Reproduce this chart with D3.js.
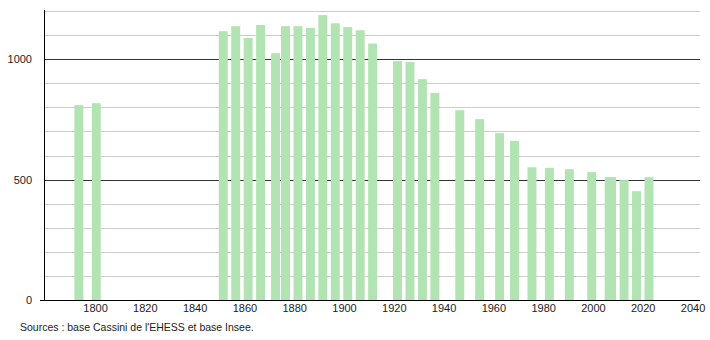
<!DOCTYPE html>
<meta charset="utf-8">
<title>Population</title>
<style>
body { margin: 0; background: #fff; font: 11px "Liberation Sans", Arial, sans-serif; }
.grid line { stroke: #ccc; stroke-width: 1; shape-rendering: crispEdges; }
.grid line.major { stroke: #333; }
.axis text { fill: #222; font: 11px "Liberation Sans", Arial, sans-serif; }
</style>
<body>
<script src="https://d3js.org/d3.v7.min.js"></script>
<script>

// census years and population
var years = [1793, 1800,
  1851, 1856, 1861, 1866, 1872, 1876, 1881, 1886, 1891, 1896, 1901, 1906, 1911,
  1921, 1926, 1931, 1936, 1946, 1954, 1962, 1968, 1975, 1982, 1990, 1999,
  2006, 2007, 2012, 2017, 2022];
var population = [809, 817,
  1116, 1137, 1088, 1142, 1025, 1137, 1137, 1130, 1183, 1149, 1133, 1120, 1065,
  992, 988, 917, 860, 788, 751, 693, 661, 551, 549, 543, 531,
  510, 510, 498, 452, 510];

var xTicks = [1800, 1820, 1840, 1860, 1880, 1900, 1920, 1940, 1960, 1980, 2000, 2020, 2040];
var yLabels = [0, 500, 1000];
var yGrid = d3.range(100, 1201, 100);

var data = years.map(function(y, i) { return {year: y, pop: population[i]}; });

var width = 710, height = 340;
var plotLeft = 44, plotRight = 700, plotTop = 11, plotBottom = 300;

var x = d3.scaleLinear().domain([1779.5, 2043]).range([plotLeft, plotRight]);
var y = d3.scaleLinear().domain([0, 1200]).range([plotBottom, plotTop]);

var svg = d3.select("body").append("svg")
  .attr("width", width)
  .attr("height", height);

// grid lines
svg.append("g").attr("class", "grid")
  .selectAll("line")
  .data(yGrid)
  .enter().append("line")
  .attr("class", function(d) { return d % 500 === 0 ? "major" : null; })
  .attr("x1", plotLeft)
  .attr("x2", plotRight)
  .attr("y1", function(d) { return Math.round(y(d)) + 0.5; })
  .attr("y2", function(d) { return Math.round(y(d)) + 0.5; });

// bars (centred on the middle of the census year)
var half = 1.8;
svg.append("g")
  .selectAll("rect")
  .data(data)
  .enter().append("rect")
  .attr("x", function(d) { return x(d.year + 0.5 - half); })
  .attr("width", function(d) { return x(d.year + 0.5 + half) - x(d.year + 0.5 - half); })
  .attr("y", function(d) { return y(d.pop); })
  .attr("height", function(d) { return y(0) - y(d.pop); })
  .attr("fill", "#b2e3b2");

// x axis
var xAxis = svg.append("g")
  .attr("class", "axis")
  .attr("transform", "translate(0," + plotBottom + ")")
  .call(d3.axisBottom(x).tickValues(xTicks).tickFormat(d3.format("d")).tickSize(0).tickPadding(4));
xAxis.select(".domain").remove();

// y axis labels
var yAxis = svg.append("g")
  .attr("class", "axis")
  .attr("transform", "translate(" + plotLeft + ",0)")
  .call(d3.axisLeft(y).tickValues(yLabels).tickFormat(d3.format("d")).tickSize(0).tickPadding(12));
yAxis.select(".domain").remove();

// axis lines
svg.append("line")
  .attr("x1", plotLeft - 4).attr("x2", plotRight)
  .attr("y1", plotBottom + 0.5).attr("y2", plotBottom + 0.5)
  .attr("stroke", "#000");
svg.append("line")
  .attr("x1", plotLeft + 0.5).attr("x2", plotLeft + 0.5)
  .attr("y1", plotTop - 1).attr("y2", plotBottom)
  .attr("stroke", "#000");

// source
svg.append("text")
  .attr("x", 20)
  .attr("y", 331)
  .attr("fill", "#222")
  .style("font-size", "10.5px")
  .text("Sources : base Cassini de l'EHESS et base Insee.");

</script>
</body>
